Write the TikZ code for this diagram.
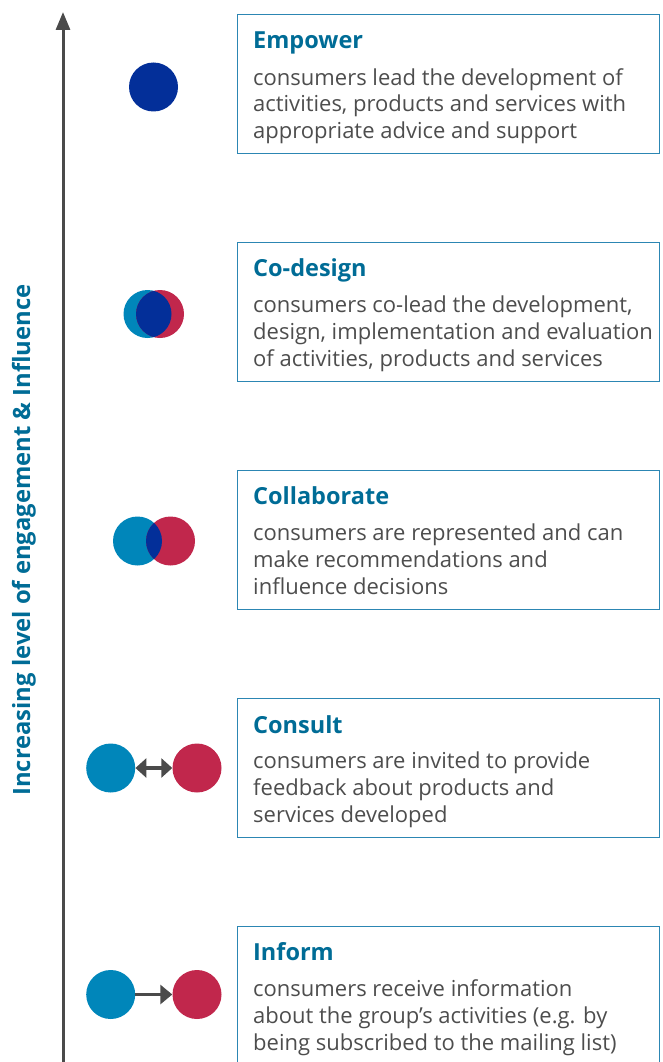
\documentclass[tikz,border=0pt]{standalone}
\usepackage{fontspec}
\setmainfont{Open Sans}
\usetikzlibrary{arrows.meta}
\definecolor{cblue}{RGB}{0,134,186}
\definecolor{cred}{RGB}{193,39,76}
\definecolor{cnavy}{RGB}{3,47,153}
\definecolor{ctitle}{RGB}{0,108,150}
\definecolor{ctext}{RGB}{77,77,77}
\definecolor{cborder}{RGB}{44,134,179}
\definecolor{carrow}{RGB}{74,74,74}
\tikzset{
  x=1pt,y=-1pt,
  lvlbox/.style={draw=cborder,line width=1.3pt,minimum width=422pt,minimum height=139pt,anchor=north west,inner sep=0pt},
  ttl/.style={anchor=base west,inner sep=0pt,text=ctitle,font=\fontsize{23.5}{28}\selectfont\bfseries},
  body/.style={anchor=north west,inner sep=0pt,align=left,text=ctext,font=\fontsize{22}{26.8}\selectfont},
  dot/.style={circle,minimum size=49pt,inner sep=0pt,draw=none},
  conn/.style={draw=carrow,line width=3.3pt},
}
\newcommand{\lvl}[4]{%
  \node[lvlbox] (box#1) at (237,#2) {};
  \node[ttl] (ttl#1) at (253,#2+35) {#3};
  \node[body] (body#1) at (253,#2+54) {#4};
}
\begin{document}
\begin{tikzpicture}
\useasboundingbox (0,0) rectangle (662,1062);
% axis
\coordinate (axbot) at (63,1075);
\coordinate (axtop) at (63,12);
\draw[draw=carrow,line width=3pt,-{Triangle[width=14pt,length=18pt]}] (axbot) -- (axtop);
\node[rotate=90,text=ctitle,font=\fontsize{23.8}{26}\selectfont\bfseries,inner sep=0pt] (axlabel) at (24,540) {Increasing level of engagement \& Influence};
% boxes
\lvl{E}{14}{Empower}{consumers lead the development of\\activities, products and services with\\appropriate advice and support}
\lvl{D}{241.5}{Co-design}{consumers co-lead the development,\\design, implementation and evaluation\\of activities, products and services}
\lvl{C}{469.5}{Collaborate}{consumers are represented and can\\make recommendations and\\influence decisions}
\lvl{S}{698}{Consult}{consumers are invited to provide\\feedback about products and\\services developed}
\node[lvlbox,minimum height=160pt] (boxI) at (237,925.5) {};
\node[ttl] (ttlI) at (253,925.5+35) {Inform};
\node[body] (bodyI) at (253,925.5+54) {consumers receive information\\about the group’s activities (e.g. by\\being subscribed to the mailing list)};
% empower
\node[dot,fill=cnavy] (e1) at (153.5,87) {};
% co-design
\node[dot,fill=cblue,minimum size=48pt] (d1) at (147.5,314) {};
\node[dot,fill=cred,minimum size=48pt] (d2) at (160,314) {};
\begin{scope}
  \clip (147.5,314) circle (24);
  \fill[cnavy] (160,314) circle (24);
\end{scope}
% collaborate
\node[dot,fill=cblue] (c1) at (137.5,541) {};
\node[dot,fill=cred] (c2) at (170.5,541) {};
\begin{scope}
  \clip (137.5,541) circle (24.5);
  \fill[cnavy] (170.5,541) circle (24.5);
\end{scope}
% consult
\node[dot,fill=cblue] (s1) at (110.7,768) {};
\node[dot,fill=cred] (s2) at (197,768) {};
\draw[conn,{Triangle[width=19pt,length=11pt]}-{Triangle[width=19pt,length=11pt]}] (s1) -- (s2);
% inform
\node[dot,fill=cblue] (i1) at (110.7,994.5) {};
\node[dot,fill=cred] (i2) at (197,994.5) {};
\draw[conn,-{Triangle[width=19pt,length=12pt]}] (i1) -- (i2);
\end{tikzpicture}
\end{document}
